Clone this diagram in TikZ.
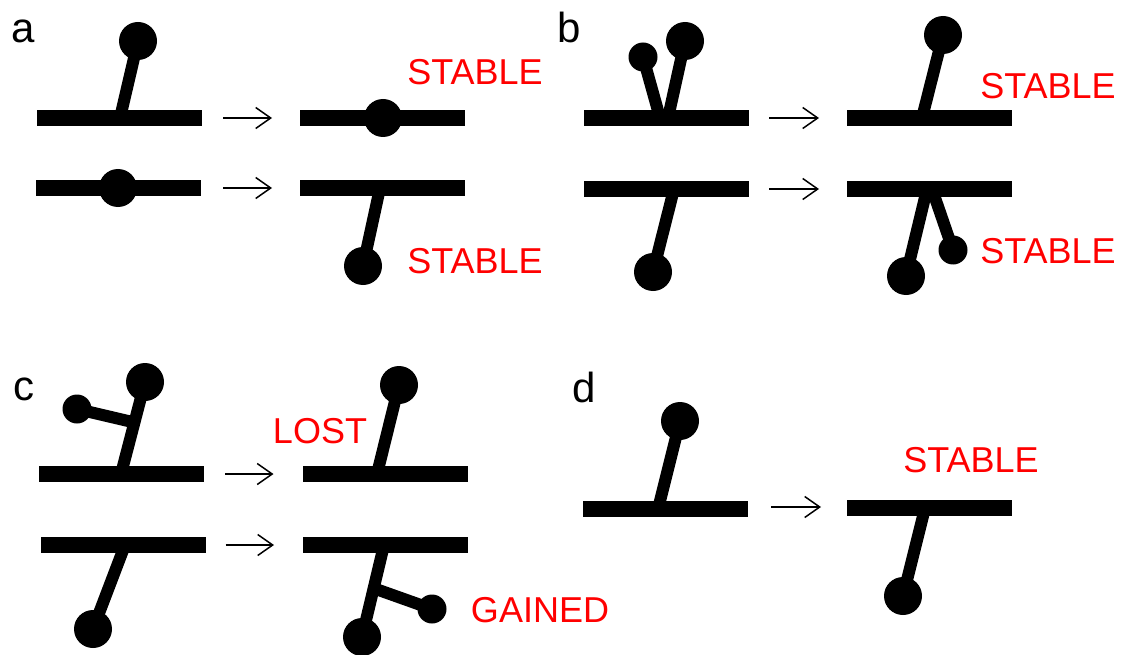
\documentclass[tikz,border=0pt]{standalone}
\usepackage{fontspec}
\setmainfont{Liberation Sans}
\usetikzlibrary{arrows.meta,backgrounds,calc}
\begin{document}
\begin{tikzpicture}[x=1pt,y=-1pt,
  bar/.style={rectangle,fill=black,minimum width=165pt,minimum height=16pt,inner sep=0pt,outer sep=0pt},
  ball/.style={circle,fill=black,minimum size=38pt,inner sep=0pt},
  bead/.style={circle,fill=black,minimum size=29pt,inner sep=0pt},
  stick/.style={line width=12pt,black},
  arr/.style={line width=1.5pt,-{Straight Barb[length=15pt,width=21pt]}},
  tag/.style={text=red,font=\fontsize{36}{40}\selectfont,inner sep=0pt},
  panel/.style={font=\fontsize{42}{46}\selectfont,inner sep=0pt,anchor=base west}]
\useasboundingbox (0,0) rectangle (1126,655);

% ---------- panel labels
\node[panel] (la) at (11,43) {a};
\node[panel] (lb) at (557,43) {b};
\node[panel] (lc) at (13,400) {c};
\node[panel] (ld) at (572,402) {d};

% ---------- panel a
\node[bar] (a1) at (119.5,118) {};
\node[bar] (a2) at (118.5,188) {};
\node[bar] (a3) at (382.5,118) {};
\node[bar] (a4) at (382.5,188) {};
\coordinate (a1s) at (120,118);
\node[ball] (a1b) at (138,41) {};
\node[ball] (a2b) at (118,188) {};
\node[ball] (a3b) at (383,118) {};
\coordinate (a4s) at (380,188);
\node[ball] (a4b) at (363,266) {};
\node[tag] (ta1) at (475,72) {STABLE};
\node[tag] (ta2) at (475,261) {STABLE};
\draw[arr] ([xshift=21pt]a1.east) -- ([xshift=-28pt]a3.west);
\draw[arr] ([xshift=22pt]a2.east) -- ([xshift=-28pt]a4.west);

% ---------- panel b
\node[bar] (b1) at (666.5,118) {};
\node[bar] (b2) at (666.5,189) {};
\node[bar] (b3) at (929.5,118) {};
\node[bar] (b4) at (929.5,189) {};
\coordinate (b1s) at (660,118);
\coordinate (b1t) at (668,118);
\node[bead] (b1a) at (643,57) {};
\node[ball] (b1b) at (685,41) {};
\coordinate (b2s) at (674,189);
\node[ball] (b2b) at (653,272) {};
\coordinate (b3s) at (922,118);
\node[ball] (b3b) at (943,35) {};
\coordinate (b4s) at (927,189);
\coordinate (b4t) at (932,189);
\node[ball] (b4b) at (906,276) {};
\node[bead] (b4a) at (953,250) {};
\node[tag] (tb1) at (1048,86) {STABLE};
\node[tag] (tb2) at (1048,251) {STABLE};
\draw[arr] ([xshift=20pt]b1.east) -- ([xshift=-28pt]b3.west);
\draw[arr] ([xshift=20pt]b2.east) -- ([xshift=-28pt]b4.west);

% ---------- panel c
\node[bar] (c1) at (121.5,474) {};
\node[bar] (c2) at (123,545) {};
\node[bar] (c3) at (385,474) {};
\node[bar] (c4) at (385.5,545) {};
\coordinate (c1s) at (121,474);
\node[ball] (c1b) at (145,382) {};
\coordinate (c1j) at ($(c1s)!0.56!(c1b)$);
\node[bead] (c1a) at (77,409) {};
\coordinate (c2s) at (125,545);
\node[ball] (c2b) at (93,629) {};
\coordinate (c3s) at (377,474);
\node[ball] (c3b) at (399,385) {};
\coordinate (c4s) at (384,545);
\node[ball] (c4b) at (362,637) {};
\coordinate (c4j) at ($(c4s)!0.47!(c4b)$);
\node[bead] (c4a) at (432,609) {};
\node[tag] (tc1) at (320,431) {LOST};
\node[tag] (tc2) at (540,610) {GAINED};
\draw[arr] ([xshift=21pt]c1.east) -- ([xshift=-29pt]c3.west);
\draw[arr] ([xshift=20pt]c2.east) -- ([xshift=-29pt]c4.west);

% ---------- panel d
\node[bar] (d1) at (665.5,509) {};
\node[bar] (d2) at (929.5,508) {};
\coordinate (d1s) at (658,509);
\node[ball] (d1b) at (680,421) {};
\coordinate (d2s) at (925,508);
\node[ball] (d2b) at (903,596) {};
\node[tag] (td) at (971,460) {STABLE};
\draw[arr] ([xshift=23pt,yshift=2pt]d1.east) -- ([xshift=-26pt,yshift=1pt]d2.west);

% ---------- sticks, behind bars and balls
\begin{pgfonlayer}{background}
  \draw[stick] (a1s) -- (a1b.center);
  \draw[stick] (a4s) -- (a4b.center);
  \draw[stick] (b1s) -- (b1a.center);
  \draw[stick] (b1t) -- (b1b.center);
  \draw[stick] (b2s) -- (b2b.center);
  \draw[stick] (b3s) -- (b3b.center);
  \draw[stick] (b4s) -- (b4b.center);
  \draw[stick] (b4t) -- (b4a.center);
  \draw[stick] (c1s) -- (c1b.center);
  \draw[stick] (c1j) -- (c1a.center);
  \draw[stick] (c2s) -- (c2b.center);
  \draw[stick] (c3s) -- (c3b.center);
  \draw[stick] (c4s) -- (c4b.center);
  \draw[stick] (c4j) -- (c4a.center);
  \draw[stick] (d1s) -- (d1b.center);
  \draw[stick] (d2s) -- (d2b.center);
\end{pgfonlayer}
\end{tikzpicture}
\end{document}
